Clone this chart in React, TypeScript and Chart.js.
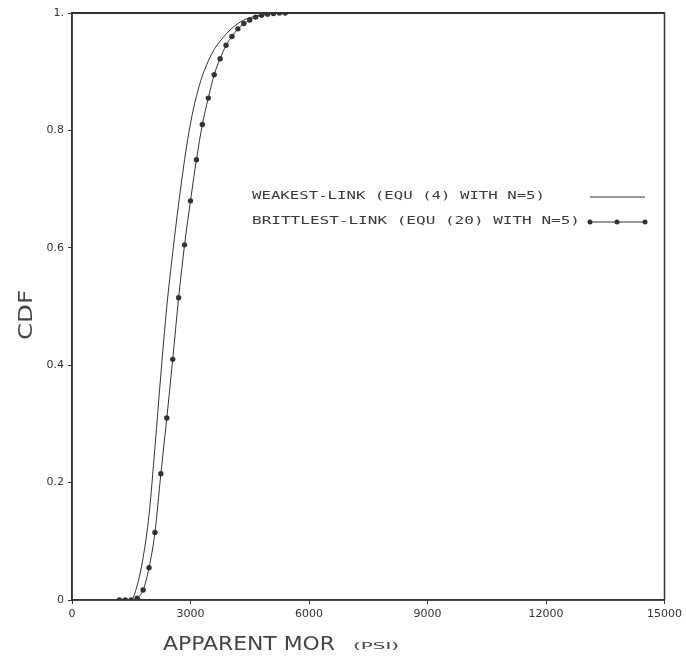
import React, { useEffect, useRef } from "react";
import { Chart, registerables } from "chart.js";

Chart.register(...registerables);

// Apparent MOR (psi) sample positions
const morPsi = [1200, 1350, 1500, 1650, 1800, 1950, 2100, 2250, 2400, 2550, 2700, 2850, 3000, 3150, 3300, 3450, 3600, 3750, 3900, 4050, 4200, 4350, 4500, 4650, 4800, 4950, 5100, 5250, 5400];
// Weakest-link CDF (Equ (4) with N=5)
const weakestLink = [0, 0, 0, 0.025, 0.072, 0.145, 0.26, 0.385, 0.5, 0.592, 0.675, 0.75, 0.812, 0.858, 0.893, 0.918, 0.938, 0.952, 0.964, 0.974, 0.982, 0.988, 0.992, 0.995, 0.997, 0.999, 1, 1, 1];
// Brittlest-link CDF (Equ (20) with N=5)
const brittlestLink = [0, 0, 0, 0.003, 0.017, 0.055, 0.115, 0.215, 0.31, 0.41, 0.515, 0.605, 0.68, 0.75, 0.81, 0.855, 0.895, 0.922, 0.945, 0.96, 0.973, 0.982, 0.988, 0.993, 0.996, 0.998, 0.999, 1, 1];

const seriesLabels = ["WEAKEST-LINK (EQU (4) WITH N=5)", "BRITTLEST-LINK (EQU (20) WITH N=5)"];
const xTicks = [0, 3000, 6000, 9000, 12000, 15000];
const yTickLabels: Record<string, string> = { "0": "0", "0.2": "0.2", "0.4": "0.4", "0.6": "0.6", "0.8": "0.8", "1": "1." };
const xTitle = "APPARENT MOR";
const xUnit = "(PSI)";
const yTitle = "CDF";

const INK = "#333333";

function stretchText(ctx: CanvasRenderingContext2D, text: string, x: number, y: number, width: number) {
  const w = ctx.measureText(text).width;
  ctx.save();
  ctx.translate(x, y);
  ctx.scale(width / w, 1);
  ctx.fillText(text, 0, 0);
  ctx.restore();
}

const decorPlugin = {
  id: "decor",
  afterDraw(chart: any) {
    const { ctx, chartArea } = chart;
    ctx.save();
    // frame
    ctx.strokeStyle = INK;
    ctx.lineWidth = 1.5;
    ctx.strokeRect(chartArea.left, chartArea.top, chartArea.right - chartArea.left, chartArea.bottom - chartArea.top);
    ctx.lineWidth = 2;
    ctx.beginPath();
    ctx.moveTo(chartArea.left, chartArea.top);
    ctx.lineTo(chartArea.right, chartArea.top);
    ctx.stroke();

    // legend
    ctx.fillStyle = "#3a3a3a";
    ctx.font = "11px 'DejaVu Sans Mono'";
    ctx.textBaseline = "middle";
    ctx.textAlign = "left";
    const ds = chart.data.datasets;
    stretchText(ctx, ds[0].label, 252, 196, 293);
    stretchText(ctx, ds[1].label, 252, 221, 328);
    ctx.strokeStyle = INK;
    ctx.lineWidth = 1;
    ctx.beginPath();
    ctx.moveTo(590, 197);
    ctx.lineTo(645, 197);
    ctx.stroke();
    ctx.beginPath();
    ctx.moveTo(590, 222);
    ctx.lineTo(645, 222);
    ctx.stroke();
    ctx.fillStyle = INK;
    [590, 617, 645].forEach((px) => {
      ctx.beginPath();
      ctx.arc(px, 222, 2.5, 0, Math.PI * 2);
      ctx.fill();
    });

    // axis titles
    ctx.fillStyle = "#444444";
    ctx.font = "20px 'DejaVu Sans'";
    ctx.textBaseline = "middle";
    stretchText(ctx, xTitle, 163, 645, 172);
    ctx.font = "9px 'DejaVu Sans'";
    stretchText(ctx, xUnit, 353, 647, 46);
    ctx.save();
    ctx.translate(27, 340);
    ctx.rotate(-Math.PI / 2);
    ctx.font = "20px 'DejaVu Sans'";
    stretchText(ctx, yTitle, 0, 0, 50);
    ctx.restore();
    ctx.restore();
  },
};

export default function App() {
  const ref = useRef<HTMLCanvasElement | null>(null);
  useEffect(() => {
    document.body.style.margin = "0";
    const canvas = ref.current!;
    const chart = new Chart(canvas, {
      type: "line",
      data: {
        datasets: [
          {
            label: seriesLabels[0],
            data: morPsi.map((x, i) => ({ x, y: weakestLink[i] })),
            borderColor: INK,
            borderWidth: 1,
            pointRadius: 0,
            cubicInterpolationMode: "monotone",
          },
          {
            label: seriesLabels[1],
            data: morPsi.map((x, i) => ({ x, y: brittlestLink[i] })),
            borderColor: INK,
            borderWidth: 1,
            pointRadius: 2.7,
            pointBackgroundColor: INK,
            pointBorderWidth: 0,
            cubicInterpolationMode: "monotone",
          },
        ],
      },
      options: {
        animation: false,
        responsive: false,
        layout: { padding: { top: 13, right: 21, left: 0, bottom: 0 } },
        plugins: { legend: { display: false }, tooltip: { enabled: false } },
        scales: {
          x: {
            type: "linear",
            min: 0,
            max: 15000,
            afterFit: (s: any) => { s.height = 63; },
            afterBuildTicks: (s: any) => { s.ticks = xTicks.map((v) => ({ value: v })); },
            grid: { display: true, drawOnChartArea: false, drawTicks: true, tickLength: 4, color: INK },
            border: { display: true, color: INK, width: 1.5 },
            ticks: { color: "#333", font: { family: "DejaVu Sans", size: 11 }, padding: 4, maxRotation: 0, autoSkip: false, callback: (v: any) => String(v) },
          },
          y: {
            type: "linear",
            min: 0,
            max: 1,
            afterFit: (s: any) => { s.width = 72; },
            grid: { display: true, drawOnChartArea: false, drawTicks: true, tickLength: 4, color: INK },
            border: { display: true, color: INK, width: 1.5 },
            ticks: {
              stepSize: 0.2,
              color: "#333",
              font: { family: "DejaVu Sans", size: 11 },
              padding: 4,
              callback: (v: any) => yTickLabels[String(Math.round(v * 10) / 10)] ?? String(v),
            },
          },
        },
      },
      plugins: [decorPlugin],
    });
    return () => chart.destroy();
  }, []);
  return <canvas ref={ref} width={686} height={663} style={{ display: "block" }} />;
}
